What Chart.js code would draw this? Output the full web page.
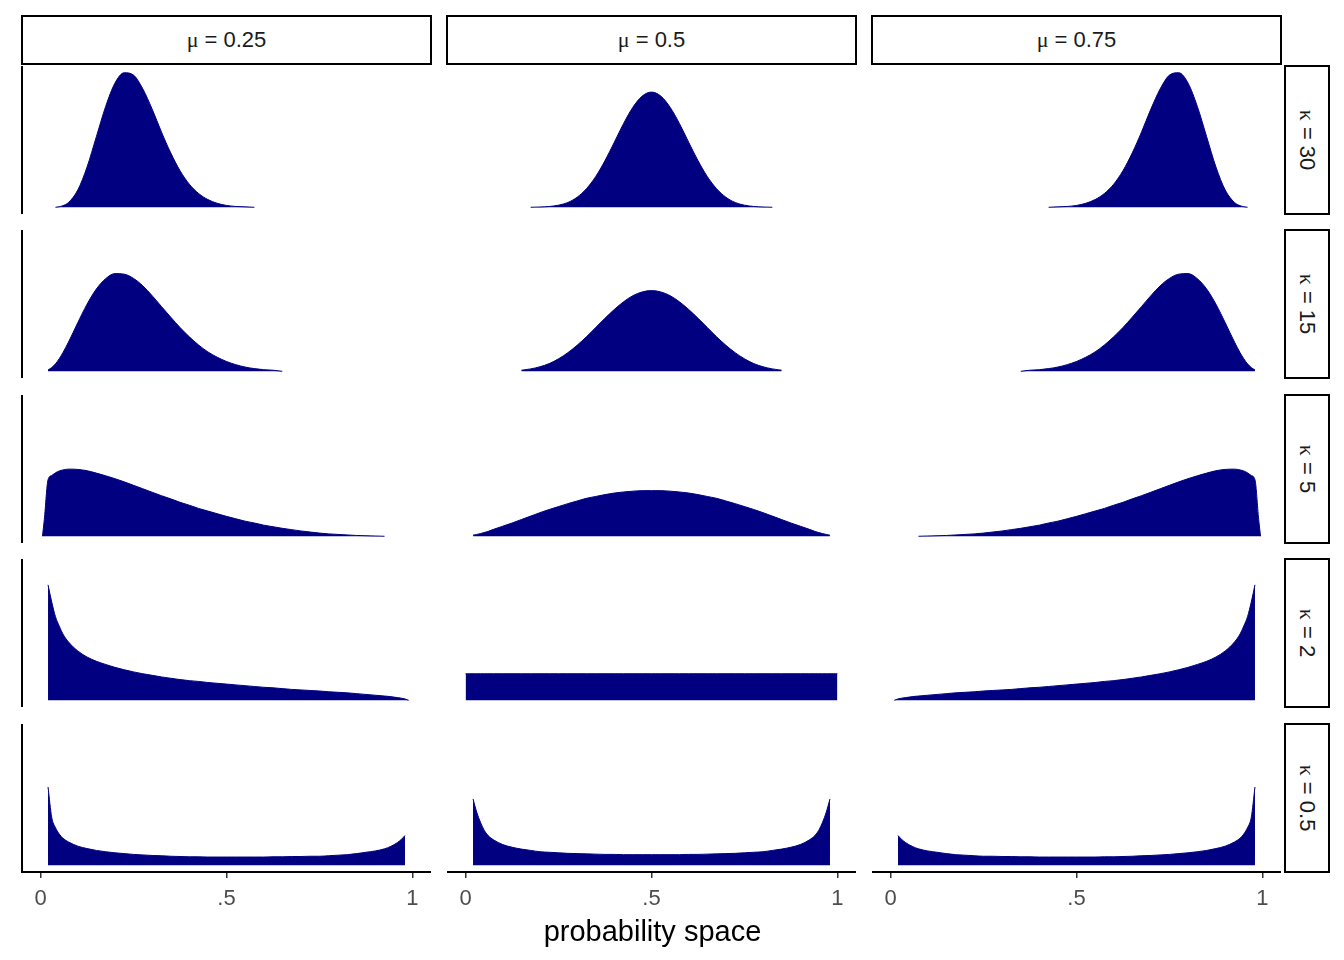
<!DOCTYPE html>
<html>
<head>
<meta charset="utf-8">
<script src="https://cdn.jsdelivr.net/npm/chart.js@4.4.1/dist/chart.umd.min.js"></script>
<style>
  html, body { margin: 0; padding: 0; background: #ffffff; }
  body { width: 1344px; height: 960px; position: relative; overflow: hidden;
         font-family: "Liberation Sans", Arial, sans-serif; }
  canvas { position: absolute; }
  .strip { position: absolute; box-sizing: border-box; border: 2px solid #000; background: #fff;
           display: flex; align-items: center; justify-content: center;
           font-size: 22px; color: #1a1a1a; white-space: nowrap; }
  .greek { font-family: "Liberation Serif", "DejaVu Serif", serif; }
  .rot { transform: rotate(90deg); white-space: nowrap; }
  #xtitle { position: absolute; text-align: center; font-size: 29px; line-height: 32px; color: #000; }
</style>
</head>
<body>
<script>
// ---------------- data ----------------
const gridX = [0, 0.005, 0.01, 0.02, 0.03, 0.04, 0.05, 0.06,
  0.075, 0.1, 0.125, 0.15, 0.175, 0.2, 0.225, 0.25, 0.275, 0.3,
  0.325, 0.35, 0.375, 0.4, 0.425, 0.45, 0.475, 0.5, 0.525, 0.55,
  0.575, 0.6, 0.625, 0.65, 0.675, 0.7, 0.725, 0.75, 0.775, 0.8,
  0.825, 0.85, 0.875, 0.9, 0.925,
  0.94, 0.95, 0.96, 0.97, 0.98, 0.99, 0.995, 1];

const muLabels = ["0.25", "0.5", "0.75"];
const kappaLabels = ["30", "15", "5", "2", "0.5"];
const tickValues = [0, 0.5, 1];
const tickLabels = ["0", ".5", "1"];
const xTitle = "probability space";

const k30_mu25 = [null, null, null, null, null, 0, 0.02, 0.06,
  0.18, 0.65, 1.52, 2.66, 3.80, 4.68, 5.07, 4.98, 4.46, 3.70,
  2.84, 2.05, 1.38, 0.87, 0.52, 0.29, 0.15, 0.07, 0.03, 0.015,
  0, null, null, null, null, null, null, null, null, null,
  null, null, null, null, null,
  null, null, null, null, null, null, null, null];
const k30_mu50 = [null, null, null, null, null, null, null, null,
  null, null, null, null, 0, 0.01, 0.03, 0.08, 0.18, 0.38,
  0.70, 1.16, 1.76, 2.45, 3.16, 3.77, 4.19, 4.34, 4.19, 3.77,
  3.16, 2.45, 1.76, 1.16, 0.70, 0.38, 0.18, 0.08, 0.03, 0.01,
  0, null, null, null, null,
  null, null, null, null, null, null, null, null];
const k30_mu75 = [null, null, null, null, null, null, null, null,
  null, null, null, null, null, null, null, null, null, null,
  null, null, null, null, 0, 0.015, 0.03, 0.07, 0.15, 0.29,
  0.52, 0.87, 1.38, 2.05, 2.84, 3.70, 4.46, 4.98, 5.07, 4.68,
  3.80, 2.66, 1.52, 0.65, 0.18,
  0.06, 0.02, 0, null, null, null, null, null];

const k15_mu25 = [null, null, null, 0.05, 0.14, 0.28, 0.47, 0.70,
  1.10, 1.83, 2.53, 3.10, 3.49, 3.68, 3.66, 3.50, 3.22, 2.85,
  2.44, 2.04, 1.65, 1.30, 0.99, 0.73, 0.53, 0.37, 0.25, 0.16,
  0.10, 0.06, 0.04, 0, null, null, null, null, null, null,
  null, null, null, null, null,
  null, null, null, null, null, null, null, null];
const k15_mu50 = [null, null, null, null, null, null, null, null,
  null, null, null, 0.04, 0.09, 0.17, 0.29, 0.47, 0.70, 0.98,
  1.30, 1.65, 2.00, 2.33, 2.62, 2.85, 2.99, 3.04, 2.99, 2.85,
  2.62, 2.33, 2.00, 1.65, 1.30, 0.98, 0.70, 0.47, 0.29, 0.17,
  0.09, 0.04, null, null, null,
  null, null, null, null, null, null, null, null];
const k15_mu75 = [null, null, null, null, null, null, null, null,
  null, null, null, null, null, null, null, null, null, null,
  null, 0, 0.04, 0.06, 0.10, 0.16, 0.25, 0.37, 0.53, 0.73,
  0.99, 1.30, 1.65, 2.04, 2.44, 2.85, 3.22, 3.50, 3.66, 3.68,
  3.49, 3.10, 2.53, 1.83, 1.10,
  0.70, 0.47, 0.28, 0.14, 0.05, null, null, null];

const k5_mu25 = [null, 0, 0.63, 2.13, 2.29, 2.39, 2.46, 2.50,
  2.53, 2.52, 2.47, 2.38, 2.28, 2.17, 2.05, 1.92, 1.79, 1.66,
  1.53, 1.41, 1.28, 1.17, 1.05, 0.95, 0.85, 0.75, 0.66, 0.57,
  0.50, 0.42, 0.36, 0.30, 0.25, 0.20, 0.16, 0.12, 0.09, 0.07,
  0.05, 0.03, 0.02, 0.01, 0,
  null, null, null, null, null, null, null, null];
const k5_mu50 = [null, null, null, 0.04, 0.07, 0.10, 0.14, 0.18,
  0.26, 0.38, 0.50, 0.63, 0.76, 0.89, 1.01, 1.12, 1.23, 1.33,
  1.43, 1.50, 1.57, 1.63, 1.67, 1.70, 1.72, 1.72, 1.72, 1.70,
  1.67, 1.63, 1.57, 1.50, 1.43, 1.33, 1.23, 1.12, 1.01, 0.89,
  0.76, 0.63, 0.50, 0.38, 0.26,
  0.18, 0.14, 0.10, 0.07, 0.04, null, null, null];
const k5_mu75 = [null, null, null, null, null, null, null, null,
  0, 0.01, 0.02, 0.03, 0.05, 0.07, 0.09, 0.12, 0.16, 0.20,
  0.25, 0.30, 0.36, 0.42, 0.50, 0.57, 0.66, 0.75, 0.85, 0.95,
  1.05, 1.17, 1.28, 1.41, 1.53, 1.66, 1.79, 1.92, 2.05, 2.17,
  2.28, 2.38, 2.47, 2.52, 2.53,
  2.50, 2.46, 2.39, 2.29, 2.13, 0.63, 0, null];

const k2_mu25 = [null, null, null, 4.35, 3.70, 3.15, 2.80, 2.50,
  2.20, 1.86, 1.63, 1.47, 1.35, 1.24, 1.15, 1.07, 1.00, 0.94,
  0.88, 0.83, 0.78, 0.74, 0.71, 0.67, 0.64, 0.61, 0.58, 0.55,
  0.52, 0.49, 0.47, 0.44, 0.41, 0.39, 0.37, 0.35, 0.32, 0.30,
  0.28, 0.25, 0.22, 0.19, 0.16,
  0.14, 0.12, 0.10, 0.08, 0.05, 0, null, null];
const k2_mu50 = [1.00, 1.00, 1.00, 1.00, 1.00, 1.00, 1.00, 1.00,
  1.00, 1.00, 1.00, 1.00, 1.00, 1.00, 1.00, 1.00, 1.00, 1.00,
  1.00, 1.00, 1.00, 1.00, 1.00, 1.00, 1.00, 1.00, 1.00, 1.00,
  1.00, 1.00, 1.00, 1.00, 1.00, 1.00, 1.00, 1.00, 1.00, 1.00,
  1.00, 1.00, 1.00, 1.00, 1.00,
  1.00, 1.00, 1.00, 1.00, 1.00, 1.00, 1.00, 1.00];
const k2_mu75 = [null, null, 0, 0.05, 0.08, 0.10, 0.12, 0.14,
  0.16, 0.19, 0.22, 0.25, 0.28, 0.30, 0.32, 0.35, 0.37, 0.39,
  0.41, 0.44, 0.47, 0.49, 0.52, 0.55, 0.58, 0.61, 0.64, 0.67,
  0.71, 0.74, 0.78, 0.83, 0.88, 0.94, 1.00, 1.07, 1.15, 1.24,
  1.35, 1.47, 1.63, 1.86, 2.20,
  2.50, 2.80, 3.15, 3.70, 4.35, null, null, null];

const k05_mu25 = [null, null, null, 2.95, 1.80, 1.42, 1.18, 1.02,
  0.88, 0.72, 0.63, 0.56, 0.51, 0.47, 0.44, 0.41, 0.39, 0.37,
  0.36, 0.34, 0.33, 0.32, 0.32, 0.31, 0.31, 0.31, 0.31, 0.31,
  0.31, 0.31, 0.32, 0.32, 0.33, 0.33, 0.34, 0.34, 0.36, 0.38,
  0.40, 0.44, 0.49, 0.54, 0.62,
  0.70, 0.77, 0.86, 0.97, 1.12, null, null, null];
const k05_mu50 = [null, null, null, 2.50, 2.00, 1.62, 1.32, 1.13,
  0.96, 0.78, 0.68, 0.61, 0.56, 0.51, 0.49, 0.47, 0.45, 0.44,
  0.43, 0.42, 0.41, 0.41, 0.40, 0.40, 0.40, 0.40, 0.40, 0.40,
  0.40, 0.41, 0.41, 0.42, 0.43, 0.44, 0.45, 0.47, 0.49, 0.51,
  0.56, 0.61, 0.68, 0.78, 0.96,
  1.13, 1.32, 1.62, 2.00, 2.50, null, null, null];
const k05_mu75 = [null, null, null, 1.12, 0.97, 0.86, 0.77, 0.70,
  0.62, 0.54, 0.49, 0.44, 0.40, 0.38, 0.36, 0.34, 0.34, 0.33,
  0.33, 0.32, 0.32, 0.31, 0.31, 0.31, 0.31, 0.31, 0.31, 0.31,
  0.32, 0.32, 0.33, 0.34, 0.36, 0.37, 0.39, 0.41, 0.44, 0.47,
  0.51, 0.56, 0.63, 0.72, 0.88,
  1.02, 1.18, 1.42, 1.80, 2.95, null, null, null];

const panelData = [
  [k30_mu25, k30_mu50, k30_mu75],
  [k15_mu25, k15_mu50, k15_mu75],
  [k5_mu25, k5_mu50, k5_mu75],
  [k2_mu25, k2_mu50, k2_mu75],
  [k05_mu25, k05_mu50, k05_mu75]
];

// ---------------- layout ----------------
const colLeft = [22, 447, 872];
const rowTop = [66, 230, 395, 559, 724];
const panelW = 409, panelH = 148;
const axisH = 45;
const navy = '#000080';

let maxVal = 0;
panelData.forEach(row => row.forEach(arr => arr.forEach(v => { if (v !== null && v > maxVal) maxVal = v; })));
const yMin = -0.05 * maxVal, yMax = 1.05 * maxVal;

function makePanel(r, c) {
  const isLeft = c === 0, isBottom = r === panelData.length - 1;
  const padL = isLeft ? 2 : 0;
  const w = panelW + padL;
  const h = panelH + (isBottom ? axisH : 0);
  const cv = document.createElement('canvas');
  cv.width = w; cv.height = h;
  cv.style.left = (colLeft[c] - padL) + 'px';
  cv.style.top = rowTop[r] + 'px';
  cv.style.width = w + 'px'; cv.style.height = h + 'px';
  document.body.appendChild(cv);
  const vals = panelData[r][c];
  const pts = gridX.map((x, i) => ({ x: x, y: vals[i] }));
  const xScale = {
    type: 'linear', min: -0.05, max: 1.05, display: isBottom,
    afterBuildTicks: s => { s.ticks = tickValues.map(v => ({ value: v })); },
    ticks: {
      callback: (v, i) => tickLabels[i], color: '#4d4d4d', autoSkip: false, maxRotation: 0,
      padding: 8, font: { family: 'Liberation Sans', size: 22 }
    },
    grid: { display: true, drawOnChartArea: false, drawTicks: true, tickLength: 6,
            color: '#333333', tickColor: '#333333', lineWidth: 1.5 },
    border: { display: true, color: '#000000', width: 2 }
  };
  if (isBottom) xScale.afterFit = s => { s.height = axisH; };
  new Chart(cv, {
    type: 'line',
    data: { datasets: [{
      data: pts, borderColor: navy, backgroundColor: navy, borderWidth: 1,
      fill: 'origin', pointRadius: 0, pointHoverRadius: 0,
      cubicInterpolationMode: 'monotone', spanGaps: false
    }] },
    options: {
      responsive: false, animation: false, devicePixelRatio: 1,
      layout: { padding: { left: padL, right: 0, top: 0, bottom: 0 } },
      plugins: { legend: { display: false }, tooltip: { enabled: false } },
      events: [],
      scales: {
        x: xScale,
        y: {
          min: yMin, max: yMax, display: isLeft,
          ticks: { display: false },
          grid: { display: true, drawOnChartArea: false, drawTicks: false },
          border: { display: true, color: '#000000', width: 2 }
        }
      }
    }
  });
}

for (let r = 0; r < panelData.length; r++)
  for (let c = 0; c < 3; c++) makePanel(r, c);

// strips (top)
muLabels.forEach((m, c) => {
  const d = document.createElement('div');
  d.className = 'strip';
  d.style.left = (colLeft[c] - 1) + 'px';
  d.style.top = '15px';
  d.style.width = (panelW + 2) + 'px';
  d.style.height = '50px';
  d.innerHTML = '<span><span class="greek">\u03bc</span> = ' + m + '</span>';
  document.body.appendChild(d);
});
// strips (right)
kappaLabels.forEach((k, r) => {
  const d = document.createElement('div');
  d.className = 'strip';
  d.style.left = '1284px';
  d.style.top = (rowTop[r] - 1) + 'px';
  d.style.width = '46px';
  d.style.height = (panelH + 2) + 'px';
  d.innerHTML = '<span class="rot"><span class="greek">\u03ba</span> = ' + k + '</span>';
  document.body.appendChild(d);
});
// x axis title
const t = document.createElement('div');
t.id = 'xtitle';
t.style.left = (colLeft[1] + 1) + 'px';
t.style.width = panelW + 'px';
t.style.top = '915px';
t.textContent = xTitle;
document.body.appendChild(t);
</script>
</body>
</html>
